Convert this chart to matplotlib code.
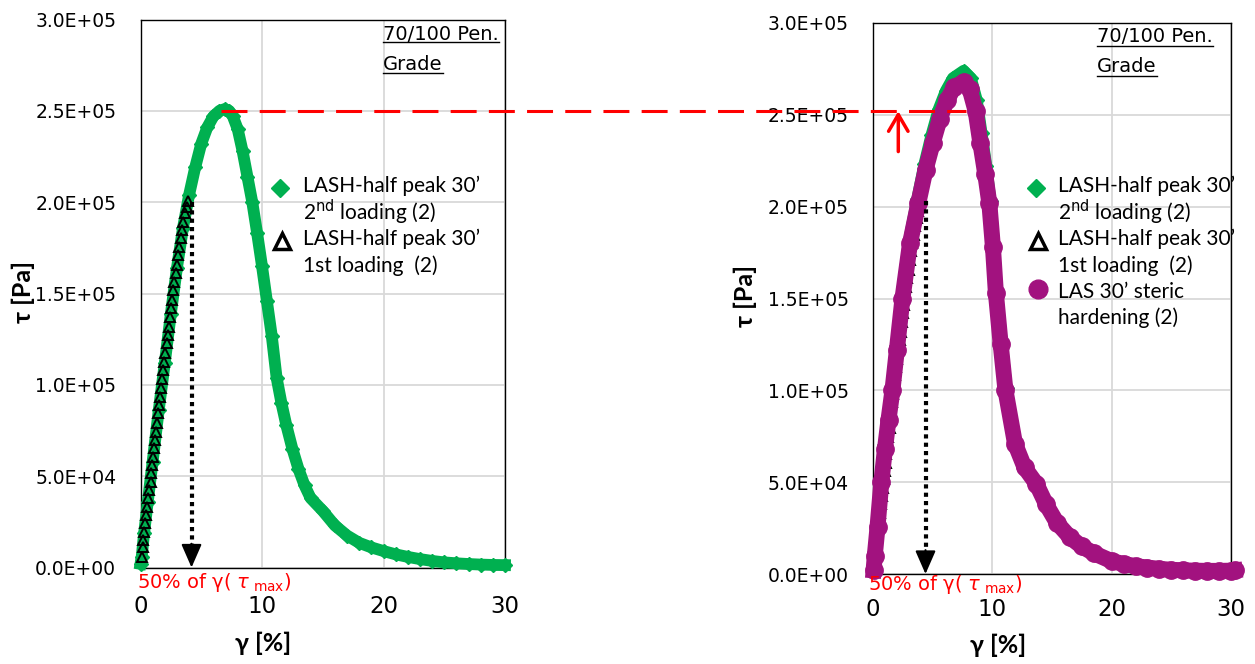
import matplotlib
matplotlib.use('Agg')
import matplotlib.pyplot as plt
from matplotlib.lines import Line2D
from matplotlib.ticker import FuncFormatter
import numpy as np

W, H = 1255, 664

# strain gamma [%] and stress tau [kPa]
# LASH-half peak 30' 1st loading (2)
tri_x = [0.10, 0.18, 0.23, 0.29, 0.37, 0.45, 0.56, 0.64, 0.73, 0.84, 0.89, 0.97, 1.06, 1.11,
         1.19, 1.28, 1.39, 1.47, 1.55, 1.61, 1.69, 1.77, 1.88, 1.96, 2.04, 2.15, 2.24, 2.32,
         2.43, 2.51, 2.59, 2.70, 2.78, 2.89, 2.98, 3.11, 3.20, 3.31, 3.42, 3.53, 3.66, 3.80, 3.93]
tri_y = [5.9, 11.4, 15.1, 19.6, 24.2, 28.7, 33.3, 37.9, 42.4, 47.0, 51.5, 56.1, 60.7, 65.2,
         69.8, 74.4, 79.3, 84.4, 89.0, 93.5, 98.1, 103.0, 108.1, 112.7, 117.2, 122.7, 127.3, 131.8,
         137.3, 141.9, 146.4, 151.9, 156.5, 161.0, 165.6, 171.1, 175.6, 180.2, 184.7, 189.3, 193.9, 197.5, 200.8]

# LASH-half peak 30' 2nd loading (2), left panel
green_l_x = [0.0, 0.1, 0.3, 0.6, 1.0, 1.5, 2.0, 2.5, 3.0, 3.5, 4.0, 4.5, 5.0, 5.5, 6.0, 6.5, 6.95,
             7.3, 7.6, 8.0, 8.4, 8.8, 9.2, 9.6, 10.0, 10.4, 10.8, 11.2, 11.6, 12.0, 12.5, 13.0, 13.5,
             14.0, 15.0, 16.0, 17.0, 18.0, 19.0, 20.0, 21.0, 22.0, 23.0, 24.0, 25.0, 26.0, 27.0,
             28.0, 29.0, 30.0]
green_l_y = [2, 6, 19, 36, 58, 86, 112, 139, 164, 186, 204, 219, 232, 241, 247, 250, 251,
             250, 247, 240, 228, 214, 200, 183, 165, 146, 127, 104, 90, 78, 65, 54, 45,
             38, 31, 23, 17.5, 13.5, 11, 9, 7.2, 5.8, 4.6, 3.6, 2.8, 2.3, 1.9,
             1.6, 1.4, 1.3]

# LASH-half peak 30' 2nd loading (2), right panel
green_r_x = [0.05, 0.15, 0.35, 0.65, 0.95, 1.25, 1.55, 1.95, 2.4, 3.0, 3.7, 4.3, 4.9, 5.5, 6.1,
             6.7, 7.6, 8.2, 8.7, 9.1, 9.5, 9.85, 10.15, 10.4, 10.8, 11.2, 11.9, 12.7, 13.7,
             14.5, 15.4, 16.5, 17.5, 18.5, 20.0, 22.0, 24.0, 26.0, 28.0, 30.0]
green_r_y = [2, 10, 26, 50, 70, 86, 101, 124, 152, 181, 204, 223, 239, 253, 263,
             270, 274, 270, 258, 240, 222, 203, 179, 153, 126, 101, 72, 59, 50,
             39, 29, 21, 15.5, 11.8, 7.3, 4.5, 3.0, 2.1, 1.8, 1.9]

# LAS 30' steric hardening (2)
mag_x = [0.05, 0.15, 0.38, 0.7, 1.0, 1.3, 1.63, 2.0, 2.47, 3.1, 3.8, 4.4, 5.0, 5.6, 6.2, 6.8,
         7.6, 8.1, 8.6, 9.0, 9.4, 9.75, 10.05, 10.3, 10.7, 11.1, 11.9, 12.7, 13.7, 14.5,
         15.4, 16.5, 17.5, 18.5, 20.0, 21.0, 22.0, 23.0, 24.0, 25.0, 26.0, 27.0, 28.0, 29.0,
         30.0, 30.3]
mag_y = [2, 10, 25.7, 50, 68, 84, 100, 122, 150, 180, 202, 220, 234.5, 248, 258, 265,
         268, 264, 252, 234.5, 218, 201.8, 178, 152.8, 125, 100, 71, 58, 49, 38,
         28, 20, 15, 11.3, 7, 5.5, 4.3, 3.5, 2.8, 2.3, 2.0, 1.8, 1.7, 1.7,
         1.8, 2.0]

x_ticks = [0, 10, 20, 30]
y_ticks = [0, 5e4, 1e5, 1.5e5, 2e5, 2.5e5, 3e5]

GREEN = '#00B050'
MAGENTA = '#A2127F'
RED = '#FF0000'
TEXT_FONT = ['Lato', 'DejaVu Sans']


def kpa(v):
    return np.array(v) * 1e3


def fp(x, y):
    # pixel position -> figure fraction
    return x / W, 1 - y / H


def style_axes(ax, xpad):
    ax.set_xlim(0, 30)
    ax.set_ylim(0, 3e5)
    ax.set_xticks(x_ticks)
    ax.set_yticks(y_ticks)
    ax.yaxis.set_major_formatter(FuncFormatter(lambda v, p: f'{v:.1E}'))
    ax.tick_params(length=0)
    ax.tick_params(axis='y', labelsize=13.5, pad=17.5)
    ax.tick_params(axis='x', labelsize=16.5, pad=xpad)
    ax.grid(True, color='#D9D9D9', lw=1.3)
    ax.set_axisbelow(True)
    for s in ax.spines.values():
        s.set_linewidth(1.0)
        s.set_color('black')


fig = plt.figure(figsize=(W / 100, H / 100), dpi=100)
ax1 = fig.add_axes([140.5 / W, 1 - 567.5 / H, 364.5 / W, 548 / H])
ax2 = fig.add_axes([873 / W, 1 - 574 / H, 358 / W, 551 / H])
style_axes(ax1, 19.5)
style_axes(ax2, 17)

# left panel
ax1.plot(green_l_x, kpa(green_l_y), color=GREEN, lw=8.5, marker='D', ms=7, clip_on=False, zorder=3)
ax1.plot(tri_x, kpa(tri_y), ls='none', marker='^', ms=7.5, mfc='none', mec='black', mew=1.4,
         clip_on=False, zorder=4)

# right panel
ax2.plot(green_r_x, kpa(green_r_y), color=GREEN, lw=8.5, marker='D', ms=7, clip_on=False, zorder=3)
ax2.plot(tri_x, kpa(tri_y), ls='none', marker='^', ms=7.5, mfc='none', mec='black', mew=1.4,
         clip_on=False, zorder=4)
ax2.plot(mag_x, kpa(mag_y), color=MAGENTA, lw=11.5, marker='o', ms=12.5, clip_on=False, zorder=5)

# dotted arrows down to 50% of gamma(tau_max)
for ax, gx, gy in [(ax1, 4.2, 2.0e5), (ax2, 4.4, 2.03e5)]:
    ax.plot([gx, gx], [gy, 1.2e4], color='black', ls=(0, (1, 1)), lw=3, zorder=6)
    ax.annotate('', xy=(gx, 0), xytext=(gx, 1.3e4),
                arrowprops=dict(arrowstyle='-|>,head_width=0.35,head_length=0.8', color='black',
                                lw=1.5, shrinkA=0, shrinkB=0, mutation_scale=18), zorder=6)

# red arrow in right panel
ax2.annotate('', xy=(2.12, 2.52e5), xytext=(2.12, 2.3e5),
             arrowprops=dict(arrowstyle='->,head_width=0.35,head_length=0.6', color=RED, lw=2.5,
                             shrinkA=0, shrinkB=0, mutation_scale=20), zorder=7)

# red dashed level line across both panels
x0, y0 = ax1.transData.transform((6.6, 2.5e5))
x1 = ax2.transData.transform((7.8, 0))[0]
(fx0, fy0), (fx1, _) = fig.transFigure.inverted().transform([(x0, y0), (x1, y0)])
fig.add_artist(Line2D([fx0, fx1], [fy0, fy0], color=RED, lw=2.2, ls=(0, (8.5, 4)), zorder=10))

# 50% label
for px, py in [(137, 582), (868, 585)]:
    fig.text(*fp(px, py), r'50% of γ( $\tau_{\ \mathrm{max}}$)', color=RED, fontsize=14,
             family='DejaVu Sans', va='center', ha='left')

# axis labels
for px, py in [(263, 643), (998, 645)]:
    fig.text(*fp(px, py), 'γ [%]', fontsize=18, fontweight='bold', family=TEXT_FONT,
             ha='center', va='center')
for px, py in [(23, 292), (745, 296)]:
    fig.text(*fp(px, py), 'τ [Pa]', fontsize=18, fontweight='bold', family=TEXT_FONT,
             ha='center', va='center', rotation=90)

# grade note
notes = []
for px, py in [(383, 34), (1097, 37)]:
    t1 = fig.text(*fp(px, py), '70/100 Pen.', fontsize=14, family='DejaVu Sans', va='center')
    t2 = fig.text(*fp(px, py + 30), 'Grade', fontsize=14, family='DejaVu Sans', va='center')
    notes += [t1, t2]


# legends drawn by hand (marker beside first line of each entry)
def legend_marker(px, py, **kw):
    fx, fy = fp(px, py)
    fig.add_artist(Line2D([fx], [fy], ls='none', **kw))


def legend_line(px, py, s):
    fig.text(*fp(px, py), s, fontsize=15, family=TEXT_FONT, va='center', ha='left')


for mx, tx, has_mag in [(280, 303, False), (1036, 1058, True)]:
    legend_marker(mx, 188, marker='D', ms=9.5, color=GREEN)
    legend_line(tx, 186, 'LASH-half peak 30’')
    legend_line(tx, 212, '2$^{\\mathrm{nd}}$ loading (2)')
    legend_marker(mx + 2, 241, marker='^', ms=11.5, mfc='none', mec='black', mew=2.5)
    legend_line(tx, 239, 'LASH-half peak 30’')
    legend_line(tx, 266, '1st loading  (2)')
    if has_mag:
        legend_marker(mx + 2, 289, marker='o', ms=13.5, color=MAGENTA)
        legend_line(tx, 292, 'LAS 30’ steric')
        legend_line(tx, 318, 'hardening (2)')

# underline the grade note
fig.canvas.draw()
inv = fig.transFigure.inverted()
for t in notes:
    bb = t.get_window_extent()
    (ux0, uy), (ux1, _) = inv.transform([(bb.x0, bb.y0 + 1), (bb.x1, bb.y0 + 1)])
    fig.add_artist(Line2D([ux0, ux1], [uy, uy], color='black', lw=1.0))

fig.savefig('out.png', dpi=100)
plt.close(fig)
